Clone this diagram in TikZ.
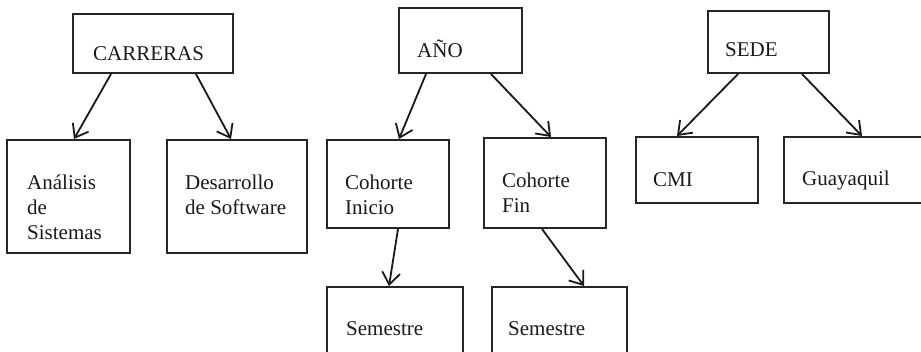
\documentclass[tikz,border=0pt]{standalone}
\usepackage{fontspec}
\setmainfont{Liberation Serif}
\usetikzlibrary{arrows.meta}
\begin{document}
\begin{tikzpicture}[x=1pt,y=-1pt,
  box/.style={draw=black!85,line width=2pt,rectangle,inner sep=0pt},
  lbl/.style={anchor=west,inner sep=0pt,align=left,text=black!90,
              font=\fontsize{21}{25}\selectfont},
  link/.style={draw=black!90,line width=1.8pt,
               -{Straight Barb[length=12pt,width=18pt,line width=1.8pt]}}]
\useasboundingbox (0,0) rectangle (921,351);
\clip (0,0) rectangle (921,351);

% CARRERAS tree
\node[box,minimum width=160,minimum height=59] (carreras)   at (153,43.5) {};
\node[box,minimum width=123,minimum height=113] (analisis)  at (68.5,196.5) {};
\node[box,minimum width=140,minimum height=113] (desarrollo) at (237,196.5) {};
\node[lbl] (carreras-t)   at (93,54)  {CARRERAS};
\node[lbl] (analisis-t)   at (27,207) {Análisis\\de\\Sistemas};
\node[lbl] (desarrollo-t) at (185,195) {Desarrollo\\de Software};

% AÑO tree
\node[box,minimum width=123,minimum height=65] (anio)   at (460.5,40.5) {};
\node[box,minimum width=122,minimum height=88] (inicio) at (388,184) {};
\node[box,minimum width=122,minimum height=90] (fin)    at (545,183) {};
\node[box,minimum width=136,minimum height=80] (sem1)   at (395,327) {};
\node[box,minimum width=135,minimum height=80] (sem2)   at (559.5,327) {};
\node[lbl] (anio-t)   at (417,49)  {AÑO};
\node[lbl] (inicio-t) at (345,195) {Cohorte\\Inicio};
\node[lbl] (fin-t)    at (502,193) {Cohorte\\Fin};
\node[lbl] (sem1-t)   at (346,329) {Semestre};
\node[lbl] (sem2-t)   at (508,329) {Semestre};

% SEDE tree
\node[box,minimum width=121,minimum height=62] (sede)      at (768.5,42) {};
\node[box,minimum width=122,minimum height=66] (cmi)       at (697,170) {};
\node[box,minimum width=160,minimum height=66] (guayaquil) at (864,170) {};
\node[lbl] (sede-t)      at (725,50)  {SEDE};
\node[lbl] (cmi-t)       at (653,180) {CMI};
\node[lbl] (guayaquil-t) at (802,180) {Guayaquil};

% connectors
\draw[link] ([xshift=39pt]carreras.south west) -- ([xshift=68pt]analisis.north west);
\draw[link] ([xshift=124pt]carreras.south west) -- ([xshift=65pt]desarrollo.north west);
\draw[link] ([xshift=28pt]anio.south west) -- ([xshift=73pt]inicio.north west);
\draw[link] ([xshift=93pt]anio.south west) -- ([xshift=68pt]fin.north west);
\draw[link] ([xshift=72pt]inicio.south west) -- ([xshift=63pt]sem1.north west);
\draw[link] ([xshift=59pt]fin.south west) -- ([xshift=93pt]sem2.north west);
\draw[link] ([xshift=31pt]sede.south west) -- ([xshift=42pt]cmi.north west);
\draw[link] ([xshift=95pt]sede.south west) -- ([xshift=79pt]guayaquil.north west);
\end{tikzpicture}
\end{document}
